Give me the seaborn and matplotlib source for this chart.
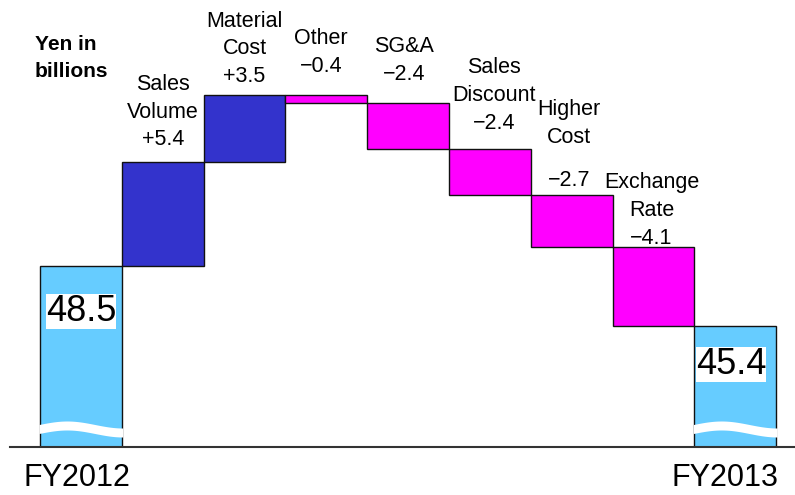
import numpy as np
import pandas as pd
import matplotlib
matplotlib.use("Agg")
import matplotlib.pyplot as plt
import seaborn as sns
from matplotlib.transforms import blended_transform_factory

# ---- data ----
categories = ["FY2012", "Sales\nVolume", "Material\nCost", "Other", "SG&A",
              "Sales\nDiscount", "Higher\nCost", "Exchange\nRate", "FY2013"]
start_value = 48.5
changes = [5.4, 3.5, -0.4, -2.4, -2.4, -2.7, -4.1]
end_value = 45.4
axis_floor = 39.09      # broken axis: value at the baseline
axis_ceiling = 62.34

# ---- styling ----
sns.set_style("white")
plt.rcParams["font.family"] = ["Liberation Sans", "DejaVu Sans"]
plt.rcParams["text.color"] = "black"
col_total = "#66CCFF"
col_up = "#3333CC"
col_down = "#FF00FF"

levels = np.concatenate([[start_value], start_value + np.cumsum(changes)])
bottoms = [axis_floor] + list(np.minimum(levels[:-1], levels[1:])) + [axis_floor]
tops = [start_value] + list(np.maximum(levels[:-1], levels[1:])) + [end_value]
heights = [t - b for t, b in zip(tops, bottoms)]
colors = [col_total] + [col_up if c > 0 else col_down for c in changes] + [col_total]

df = pd.DataFrame({"category": categories, "height": heights})

fig = plt.figure(figsize=(7.95, 4.95), dpi=100)
ax = fig.add_axes([10 / 795, 48 / 495, 785 / 795, 447 / 495])

sns.barplot(data=df, x="category", y="height", hue="category",
            palette=colors, width=1, legend=False, errorbar=None,
            saturation=1, edgecolor="#111111", linewidth=1, ax=ax)

bars = sorted(ax.patches, key=lambda p: p.get_x())
for p, b in zip(bars, bottoms):
    p.set_y(b)
    p.set_zorder(2)

ax.set_xlim(-0.867, 8.73)
ax.set_ylim(axis_floor, axis_ceiling)
ax.set_xticks([])
ax.set_yticks([])
ax.set_xlabel("")
ax.set_ylabel("")
for s in ["left", "right", "top"]:
    ax.spines[s].set_visible(False)
ax.spines["bottom"].set_color("#333333")
ax.spines["bottom"].set_linewidth(1.5)

# ---- wavy break marks on total bars ----
blend = blended_transform_factory(ax.transData, ax.transAxes)
ax_h_px = 447.0
t = np.linspace(0, 1, 200)
for i in [0, len(categories) - 1]:
    xs = i - 0.5 - 0.012 + t * 1.024
    c = 18 + 3.5 * np.sin(2 * np.pi * 0.75 * t)
    ax.fill_between(xs, (c - 4.5) / ax_h_px, (c + 4.5) / ax_h_px,
                    transform=blend, color="white", lw=0, zorder=4)

# ---- change labels ----
def fmt(v):
    return f"{v:+.1f}".replace("-", "\u2212")

label_offsets = {1: (0, 17), 2: (0, 13), 3: (-5, 23), 4: (-4, 23),
                 5: (4, 20), 7: (-2, 3)}
fs = 15.5
ls = 1.42
for i, ch in enumerate(changes, start=1):
    top = tops[i]
    if i == 6:
        ax.annotate(fmt(ch), xy=(i, top), xytext=(-3, 8.5),
                    textcoords="offset pixels", ha="center", va="baseline",
                    fontsize=fs, zorder=5)
        ax.annotate(categories[i], xy=(i, top), xytext=(-3, 52),
                    textcoords="offset pixels", ha="center", va="baseline",
                    fontsize=fs, zorder=5, linespacing=ls)
        continue
    dx, dy = label_offsets[i]
    ax.annotate(f"{categories[i]}\n{fmt(ch)}", xy=(i, top), xytext=(dx, dy),
                textcoords="offset pixels", ha="center", va="baseline",
                fontsize=fs, zorder=5, linespacing=ls)

# ---- total value labels ----
ax.annotate(f"{start_value}", xy=(0, start_value), xytext=(0, -45),
            textcoords="offset pixels", ha="center", va="center", fontsize=26,
            bbox=dict(boxstyle="square,pad=0", fc="white", ec="none"), zorder=5)
ax.annotate(f"{end_value}", xy=(8, end_value), xytext=(-4, -39),
            textcoords="offset pixels", ha="center", va="center", fontsize=26,
            bbox=dict(boxstyle="square,pad=0", fc="white", ec="none"), zorder=5)

# ---- category labels for totals ----
ax.annotate(categories[0], xy=(0, 0), xycoords=("data", "axes fraction"),
            xytext=(-4, -39), textcoords="offset pixels", ha="center",
            va="baseline", fontsize=22, annotation_clip=False)
ax.annotate(categories[-1], xy=(8, 0), xycoords=("data", "axes fraction"),
            xytext=(-10, -39), textcoords="offset pixels", ha="center",
            va="baseline", fontsize=22, annotation_clip=False)

fig.text(35 / 795, 1 - 77 / 495, "Yen in\nbillions", fontsize=15,
         fontweight="bold", ha="left", va="baseline", linespacing=1.5)

fig.savefig("out.png", dpi=100)
